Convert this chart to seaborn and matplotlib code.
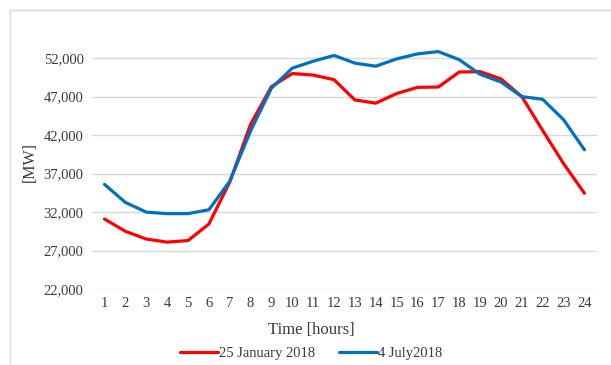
import matplotlib
matplotlib.use("Agg")
import matplotlib.pyplot as plt
import seaborn as sns
import pandas as pd
from matplotlib.patches import Rectangle

hours = list(range(1, 25))
january = [31100, 29500, 28500, 28100, 28300, 30450, 35900, 43400, 48300, 50000,
           49800, 49200, 46570, 46150, 47400, 48200, 48250, 50200, 50250, 49300,
           47000, 42600, 38300, 34450]
july = [35600, 33250, 32000, 31800, 31800, 32300, 36000, 42550, 48100, 50700,
        51600, 52350, 51350, 50950, 51900, 52550, 52850, 51800, 49900, 48900,
        47000, 46650, 44000, 40100]
series_names = ["25 January 2018", "4 July2018"]
y_ticks = [22000, 27000, 32000, 37000, 42000, 47000, 52000]

df = pd.DataFrame({
    "hour": hours * 2,
    "load": january + july,
    "day": [series_names[0]] * 24 + [series_names[1]] * 24,
})

sns.set_theme(style="white")
plt.rcParams["font.family"] = ["Liberation Serif", "DejaVu Serif"]

fig = plt.figure(figsize=(6.11, 3.65), dpi=100)
ax = fig.add_axes([0.1506, 0.208, 0.8264, 0.696])

# light outer frame of the chart area
fig.patches.append(Rectangle((10 / 611, -0.1), 1.2, 1.1 - 10 / 365,
                             transform=fig.transFigure, fill=False,
                             edgecolor="#d9d9d9", linewidth=1.0))

sns.lineplot(data=df, x="hour", y="load", hue="day",
             palette={series_names[0]: "#ff0000", series_names[1]: "#0070c0"},
             linewidth=2.3, ax=ax)

text_color = "#3a3a3a"
ax.set_xlim(0.4, 24.6)
ax.set_ylim(22000, 55000)
ax.set_xticks(hours)
ax.set_xticklabels([str(h) for h in hours], fontsize=10.5, color=text_color)
ax.set_yticks(y_ticks)
ax.set_yticklabels([f"{v:,}" for v in y_ticks], fontsize=10.5, color=text_color)
ax.tick_params(axis="both", length=0, pad=6)
ax.yaxis.grid(True, color="#d9d9d9", linewidth=1.0)
ax.set_axisbelow(True)
for s in ax.spines.values():
    s.set_visible(False)

ax.set_xlabel("Time [hours]", fontsize=12, color=text_color)
ax.xaxis.set_label_coords(0.434, -0.13)
ax.set_ylabel("[MW]", fontsize=11.5, color=text_color)
ax.yaxis.set_label_coords(-0.108, 0.5)

handles, labels = ax.get_legend_handles_labels()
ax.legend(handles, labels, loc="center", bbox_to_anchor=(0.434, -0.255),
          ncol=2, frameon=False, fontsize=10.5, handlelength=2.6,
          handletextpad=0.1, columnspacing=1.6, labelcolor=text_color,
          borderpad=0.2)

fig.savefig("out.png", dpi=100)
